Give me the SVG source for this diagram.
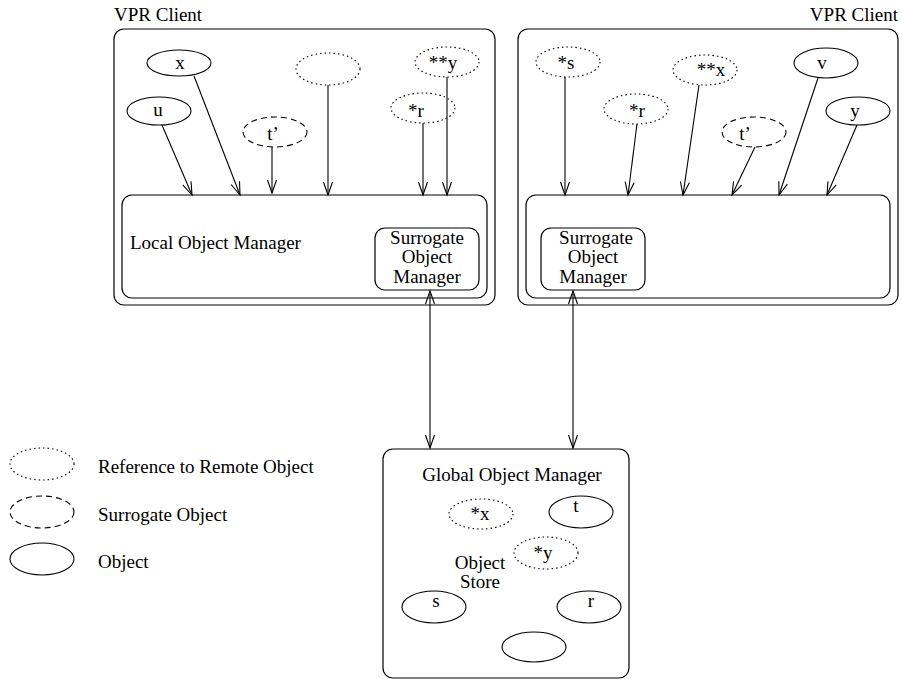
<svg xmlns="http://www.w3.org/2000/svg" width="903" height="679" viewBox="0 0 903 679">
  <style>
    .box { fill: none; stroke: #000; stroke-width: 1.2; }
    .obj { fill: none; stroke: #000; stroke-width: 1.1; }
    .ref { fill: none; stroke: #000; stroke-width: 1.1; stroke-dasharray: 1.5 3; }
    .sur { fill: none; stroke: #000; stroke-width: 1.1; stroke-dasharray: 6 4; }
    .lnk { fill: none; stroke: #000; stroke-width: 1.1; marker-end: url(#head); }
    .both { marker-start: url(#head); }
    text { font-family: "Liberation Serif", "Times New Roman", serif; font-size: 19px; fill: #000; }
    .c { text-anchor: middle; }
  </style>
  <defs>
    <marker id="head" viewBox="-14 -6 16 12" refX="0" refY="0" markerWidth="16" markerHeight="12" markerUnits="userSpaceOnUse" orient="auto-start-reverse">
      <path d="M-13,-4.5 L0,0 L-13,4.5" fill="none" stroke="#000" stroke-width="1.1"/>
    </marker>
  </defs>

  <rect width="903" height="679" fill="#fff"/>

  <!-- Left client -->
  <g id="client-left">
    <text x="114" y="21">VPR Client</text>
    <rect class="box" x="114" y="29" width="381" height="276" rx="10"/>
  </g>
  <g id="lom-left">
    <rect class="box" x="122" y="195" width="365" height="103" rx="10"/>
    <text x="130" y="249">Local Object Manager</text>
  </g>
  <g id="som-left">
    <rect class="box" x="375" y="228" width="104" height="62" rx="10"/>
    <text class="c" x="427" y="244">Surrogate</text>
    <text class="c" x="427" y="263">Object</text>
    <text class="c" x="427" y="283">Manager</text>
  </g>
  <g id="l-x"><ellipse class="obj" cx="179" cy="63" rx="32" ry="13"/><text class="c" x="180" y="69">x</text></g>
  <g id="l-u"><ellipse class="obj" cx="159" cy="111" rx="32" ry="14"/><text class="c" x="158" y="116">u</text></g>
  <g id="l-t"><ellipse class="sur" cx="275" cy="132" rx="32" ry="15"/><text class="c" x="273" y="140">t’</text></g>
  <g id="l-ref"><ellipse class="ref" cx="328" cy="69" rx="32" ry="16"/></g>
  <g id="l-y"><ellipse class="ref" cx="447" cy="62" rx="32" ry="15"/><text class="c" x="443" y="69">**y</text></g>
  <g id="l-r"><ellipse class="ref" cx="423" cy="108" rx="32" ry="15"/><text class="c" x="416" y="117">*r</text></g>

  <!-- Right client -->
  <g id="client-right">
    <text x="898" y="21" text-anchor="end">VPR Client</text>
    <rect class="box" x="518" y="29" width="380" height="276" rx="10"/>
  </g>
  <g id="lom-right">
    <rect class="box" x="526" y="195" width="364" height="103" rx="10"/>
  </g>
  <g id="som-right">
    <rect class="box" x="541" y="228" width="104" height="62" rx="10"/>
    <text class="c" x="596" y="244">Surrogate</text>
    <text class="c" x="593" y="263">Object</text>
    <text class="c" x="593" y="283">Manager</text>
  </g>
  <g id="r-s"><ellipse class="ref" cx="568" cy="62" rx="32" ry="15"/><text class="c" x="566" y="69">*s</text></g>
  <g id="r-r"><ellipse class="ref" cx="636" cy="109" rx="32" ry="15"/><text class="c" x="637" y="117">*r</text></g>
  <g id="r-x"><ellipse class="ref" cx="705" cy="70" rx="32" ry="15"/><text class="c" x="711" y="76">**x</text></g>
  <g id="r-t"><ellipse class="sur" cx="754" cy="132" rx="32" ry="15"/><text class="c" x="745" y="140">t’</text></g>
  <g id="r-v"><ellipse class="obj" cx="826" cy="63" rx="32" ry="15"/><text class="c" x="822" y="69">v</text></g>
  <g id="r-y"><ellipse class="obj" cx="858" cy="111" rx="32" ry="14"/><text class="c" x="855" y="117">y</text></g>

  <!-- Global object manager -->
  <g id="gom">
    <rect class="box" x="383" y="449" width="246" height="229" rx="10"/>
    <text class="c" x="512" y="481">Global Object Manager</text>
    <text class="c" x="480" y="569">Object</text>
    <text class="c" x="480" y="588">Store</text>
  </g>
  <g id="g-x"><ellipse class="ref" cx="481" cy="514" rx="32" ry="15"/><text class="c" x="480" y="520">*x</text></g>
  <g id="g-t"><ellipse class="obj" cx="581" cy="512" rx="32" ry="16"/><text class="c" x="576" y="512">t</text></g>
  <g id="g-y"><ellipse class="ref" cx="546" cy="553" rx="32" ry="16"/><text class="c" x="543" y="559">*y</text></g>
  <g id="g-s"><ellipse class="obj" cx="434" cy="607" rx="32" ry="16"/><text class="c" x="436" y="607">s</text></g>
  <g id="g-r"><ellipse class="obj" cx="589" cy="607" rx="32" ry="16"/><text class="c" x="591" y="607">r</text></g>
  <g id="g-o"><ellipse class="obj" cx="534" cy="647" rx="32" ry="15"/></g>

  <!-- Legend -->
  <g id="legend-ref"><ellipse class="ref" cx="42" cy="464" rx="32" ry="16"/><text x="98" y="473">Reference to Remote Object</text></g>
  <g id="legend-sur"><ellipse class="sur" cx="42" cy="512" rx="32" ry="16"/><text x="98" y="521">Surrogate Object</text></g>
  <g id="legend-obj"><ellipse class="obj" cx="42" cy="559" rx="32" ry="16"/><text x="98" y="568">Object</text></g>

  <!-- Connectors -->
  <g id="connectors">
    <path class="lnk" d="M162,125 L192,195"/>
    <path class="lnk" d="M194,76 L240,195"/>
    <path class="lnk" d="M272,147 L272,193"/>
    <path class="lnk" d="M328,85 L328,195"/>
    <path class="lnk" d="M423,123 L423,195"/>
    <path class="lnk" d="M447,77 L447,195"/>

    <path class="lnk" d="M565,77 L565,195"/>
    <path class="lnk" d="M637,124 L628,195"/>
    <path class="lnk" d="M699,85 L683,195"/>
    <path class="lnk" d="M755,147 L732,195"/>
    <path class="lnk" d="M818,78 L779,195"/>
    <path class="lnk" d="M857,125 L827,195"/>

    <path class="lnk both" d="M430,291 L430,448"/>
    <path class="lnk both" d="M573,291 L573,448"/>
  </g>
</svg>
